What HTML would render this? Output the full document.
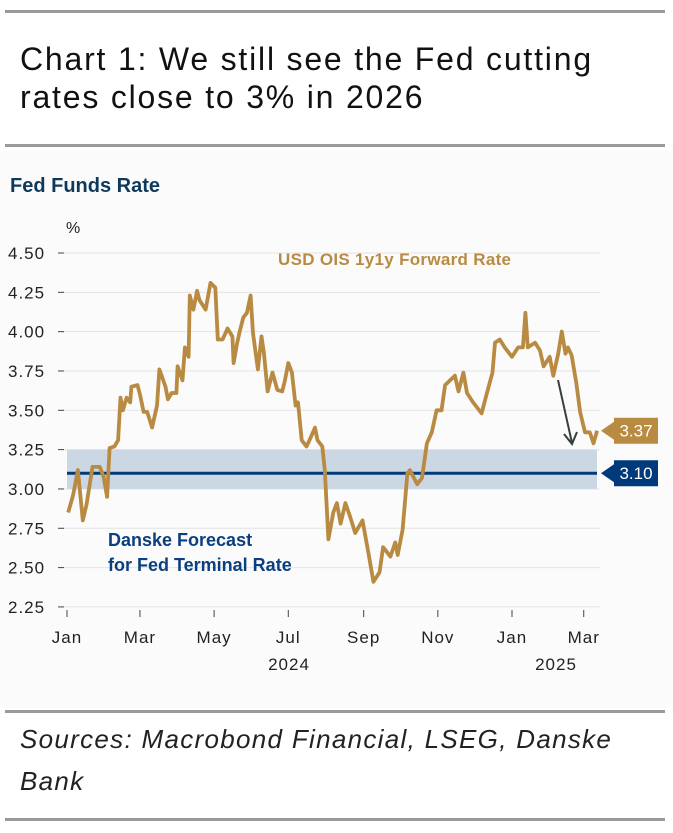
<!DOCTYPE html>
<html><head><meta charset="utf-8">
<style>
body{margin:0;width:673px;height:833px;background:#fff;font-family:"Liberation Sans",sans-serif;position:relative;overflow:hidden}
.rule{position:absolute;left:5px;width:660px;height:3px;background:#9a9a9a}
#title{position:absolute;left:20px;top:40px;font-size:32px;line-height:38px;color:#111;letter-spacing:1.8px}
#panel{position:absolute;left:0;top:150px;width:673px;height:558px;background:#fbfbfb}
#sources{position:absolute;left:20px;top:718px;font-size:26px;line-height:42px;font-style:italic;color:#222;letter-spacing:1.3px}
</style></head><body>
<div class="rule" style="top:10px"></div>
<div id="title">Chart 1: We still see the Fed cutting<br>rates close to 3% in 2026</div>
<div class="rule" style="top:144px"></div>
<div id="panel"></div>
<svg id="chart" width="673" height="833" style="position:absolute;left:0;top:0"></svg>
<div class="rule" style="top:710px"></div>
<div id="sources">Sources: Macrobond Financial, LSEG, Danske<br>Bank</div>
<div class="rule" style="top:818px"></div>
<script>
const yTicks=[4.50,4.25,4.00,3.75,3.50,3.25,3.00,2.75,2.50,2.25];
const xTickDays=[0,60,121,182,244,305,366,425];
const xTickLabels=["Jan","Mar","May","Jul","Sep","Nov","Jan","Mar"];
const days=[1,5,9,13,16,21,27,30,33,35,39,42,44,46,49,52,53,58,60,63,66,70,74,76,81,83,86,90,91,95,97,100,101,104,107,109,114,118,122,124,128,132,136,137,140,142,145,148,151,153,157,160,162,165,169,173,177,179,182,185,188,190,193,197,200,204,206,210,212,215,219,222,225,229,233,237,243,248,252,257,260,266,270,272,276,280,282,288,292,296,300,304,308,311,315,319,322,326,329,334,341,345,350,352,356,360,366,371,375,377,379,385,389,392,397,400,404,407,410,412,415,419,422,426,430,433,436];
const rates=[2.85,2.96,3.12,2.80,2.90,3.14,3.14,3.08,2.95,3.26,3.27,3.31,3.58,3.50,3.58,3.55,3.65,3.66,3.60,3.49,3.49,3.39,3.53,3.76,3.65,3.57,3.61,3.61,3.78,3.69,3.90,3.84,4.23,4.14,4.26,4.20,4.14,4.31,4.28,3.95,3.95,4.02,3.97,3.80,3.93,4.00,4.09,4.12,4.23,3.99,3.76,3.97,3.86,3.62,3.74,3.63,3.62,3.68,3.80,3.74,3.53,3.55,3.31,3.27,3.32,3.39,3.31,3.27,3.12,2.68,2.85,2.91,2.78,2.91,2.82,2.72,2.80,2.59,2.41,2.47,2.63,2.57,2.66,2.58,2.74,3.10,3.12,3.03,3.07,3.29,3.36,3.50,3.50,3.66,3.69,3.72,3.62,3.74,3.61,3.55,3.48,3.60,3.74,3.93,3.95,3.90,3.84,3.90,3.90,4.12,3.90,3.93,3.88,3.78,3.84,3.72,3.86,4.00,3.86,3.90,3.85,3.67,3.49,3.36,3.36,3.29,3.37];
const forecast=3.10, bandLow=3.00, bandHigh=3.25, lastValue=3.37;

const NS="http://www.w3.org/2000/svg";
const svg=document.getElementById('chart');
const X=d=>67+d*(445/366);
const Y=v=>253+(4.5-v)*157.3;
function mk(tag,attrs,text){const e=document.createElementNS(NS,tag);for(const k in attrs)e.setAttribute(k,attrs[k]);if(text!==undefined)e.textContent=text;svg.appendChild(e);return e;}
const GOLD="#b98b42",NAVY="#003a7a";

let t=mk('text',{x:10,y:192,'font-size':20,'font-weight':'bold',fill:'#0d3a5c'},'Fed Funds Rate');


t=mk('text',{x:66,y:233,'font-size':16,fill:'#222'},'%');



yTicks.forEach(v=>{
  const g=mk('line',{x1:62,x2:600,y1:Y(v),y2:Y(v),stroke:'#e3e3e3','stroke-width':1});
  
  
  const tk=mk('line',{x1:58,x2:64,y1:Y(v),y2:Y(v),stroke:'#444','stroke-width':1});
  
  
  const l=mk('text',{x:8,y:Y(v)+6,'font-size':17,fill:'#222','letter-spacing':'1'},v.toFixed(2));
  
  
});
xTickDays.forEach((d,i)=>{
  const tk=mk('line',{x1:X(d),x2:X(d),y1:610,y2:617,stroke:'#444','stroke-width':1});
  
  
  const l=mk('text',{x:X(d),y:643,'font-size':17,fill:'#222','text-anchor':'middle','letter-spacing':'1'},xTickLabels[i]);
  
  
});
t=mk('text',{x:289,y:670,'font-size':17,fill:'#222','text-anchor':'middle','letter-spacing':'1'},'2024');


t=mk('text',{x:556,y:670,'font-size':17,fill:'#222','text-anchor':'middle','letter-spacing':'1'},'2025');



const band=mk('rect',{x:67,y:Y(bandHigh),width:530,height:Y(bandLow)-Y(bandHigh),fill:'#cbd7e3'});


const fl=mk('line',{x1:67,x2:597,y1:Y(forecast),y2:Y(forecast),stroke:NAVY,'stroke-width':3});



const path=mk('path',{d:days.map((d,i)=>(i?'L':'M')+X(d).toFixed(1)+','+Y(rates[i]).toFixed(1)).join(''),fill:'none',stroke:GOLD,'stroke-width':3.8,'stroke-linejoin':'round'});



const ar=mk('path',{d:'M558,380 L572,443 M564,434 L572,444 L577,432',fill:'none',stroke:'#37403f','stroke-width':2});



function tag(v,color,name){
  const y=Y(v);
  const p=mk('path',{d:`M601,${y} L614,${y-9} L614,${y-13} L658,${y-13} L658,${y+13} L614,${y+13} L614,${y+9} Z`,fill:color});
  
  
  const l=mk('text',{x:636,y:y+6,'font-size':17,fill:'#fff','text-anchor':'middle'},v.toFixed(2));
  
  
}
tag(lastValue,GOLD,'last-value-tag');
tag(forecast,NAVY,'forecast-value-tag');

t=mk('text',{x:278,y:265,'font-size':17,'font-weight':'bold',fill:GOLD,'letter-spacing':'0.3'},'USD OIS 1y1y Forward Rate');


t=mk('text',{x:108,y:546,'font-size':18,'font-weight':'bold',fill:'#0a3f80'},'Danske Forecast');


t=mk('text',{x:108,y:571,'font-size':18,'font-weight':'bold',fill:'#0a3f80'},'for Fed Terminal Rate');


</script>
</body></html>
